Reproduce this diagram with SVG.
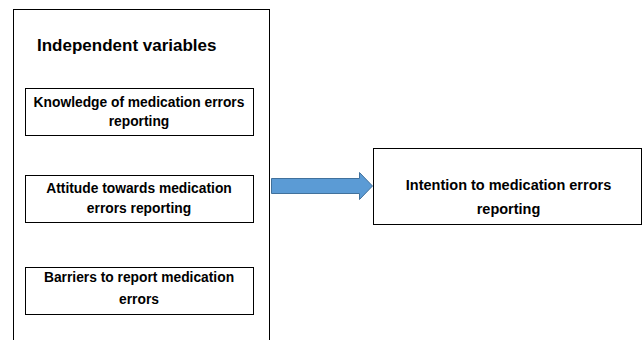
<svg xmlns="http://www.w3.org/2000/svg" width="642" height="340" viewBox="0 0 642 340">
<style>
.box{fill:#fff;stroke:#000;stroke-width:1}
.t{font-family:"Liberation Sans",Arial,sans-serif;font-weight:bold;font-size:13.8px;fill:#000;text-anchor:middle}
.i{font-family:"Liberation Sans",Arial,sans-serif;font-weight:bold;font-size:14.5px;fill:#000;text-anchor:middle}
.h{font-family:"Liberation Sans",Arial,sans-serif;font-weight:bold;font-size:17px;fill:#000}
</style>
<rect width="642" height="340" fill="#fff"/>
<g id="container">
<rect class="box" x="13.5" y="9.5" width="256" height="340"/>
<text class="h" x="37" y="51">Independent variables</text>
</g>
<g id="knowledge">
<rect class="box" x="25.5" y="88.5" width="228" height="47"/>
<text class="t" x="139" y="107">Knowledge of medication errors</text>
<text class="t" x="139" y="125.5">reporting</text>
</g>
<g id="attitude">
<rect class="box" x="25.5" y="175.5" width="228" height="47"/>
<text class="t" x="139" y="192.5">Attitude towards medication</text>
<text class="t" x="139" y="213">errors reporting</text>
</g>
<g id="barriers">
<rect class="box" x="25.5" y="267.5" width="228" height="47"/>
<text class="t" x="139" y="282">Barriers to report medication</text>
<text class="t" x="139" y="304">errors</text>
</g>
<g id="intention">
<rect class="box" x="373.5" y="148.5" width="268" height="76"/>
<text class="i" x="508.5" y="190">Intention to medication errors</text>
<text class="i" x="508.5" y="213.5">reporting</text>
</g>
<g id="connectors">
<path d="M271.5,178.5 H359.5 V172.5 L372.5,186 L359.5,199.5 V193.5 H271.5 Z" fill="#5B9BD5" stroke="#41719C" stroke-width="1"/>
</g>
</svg>
